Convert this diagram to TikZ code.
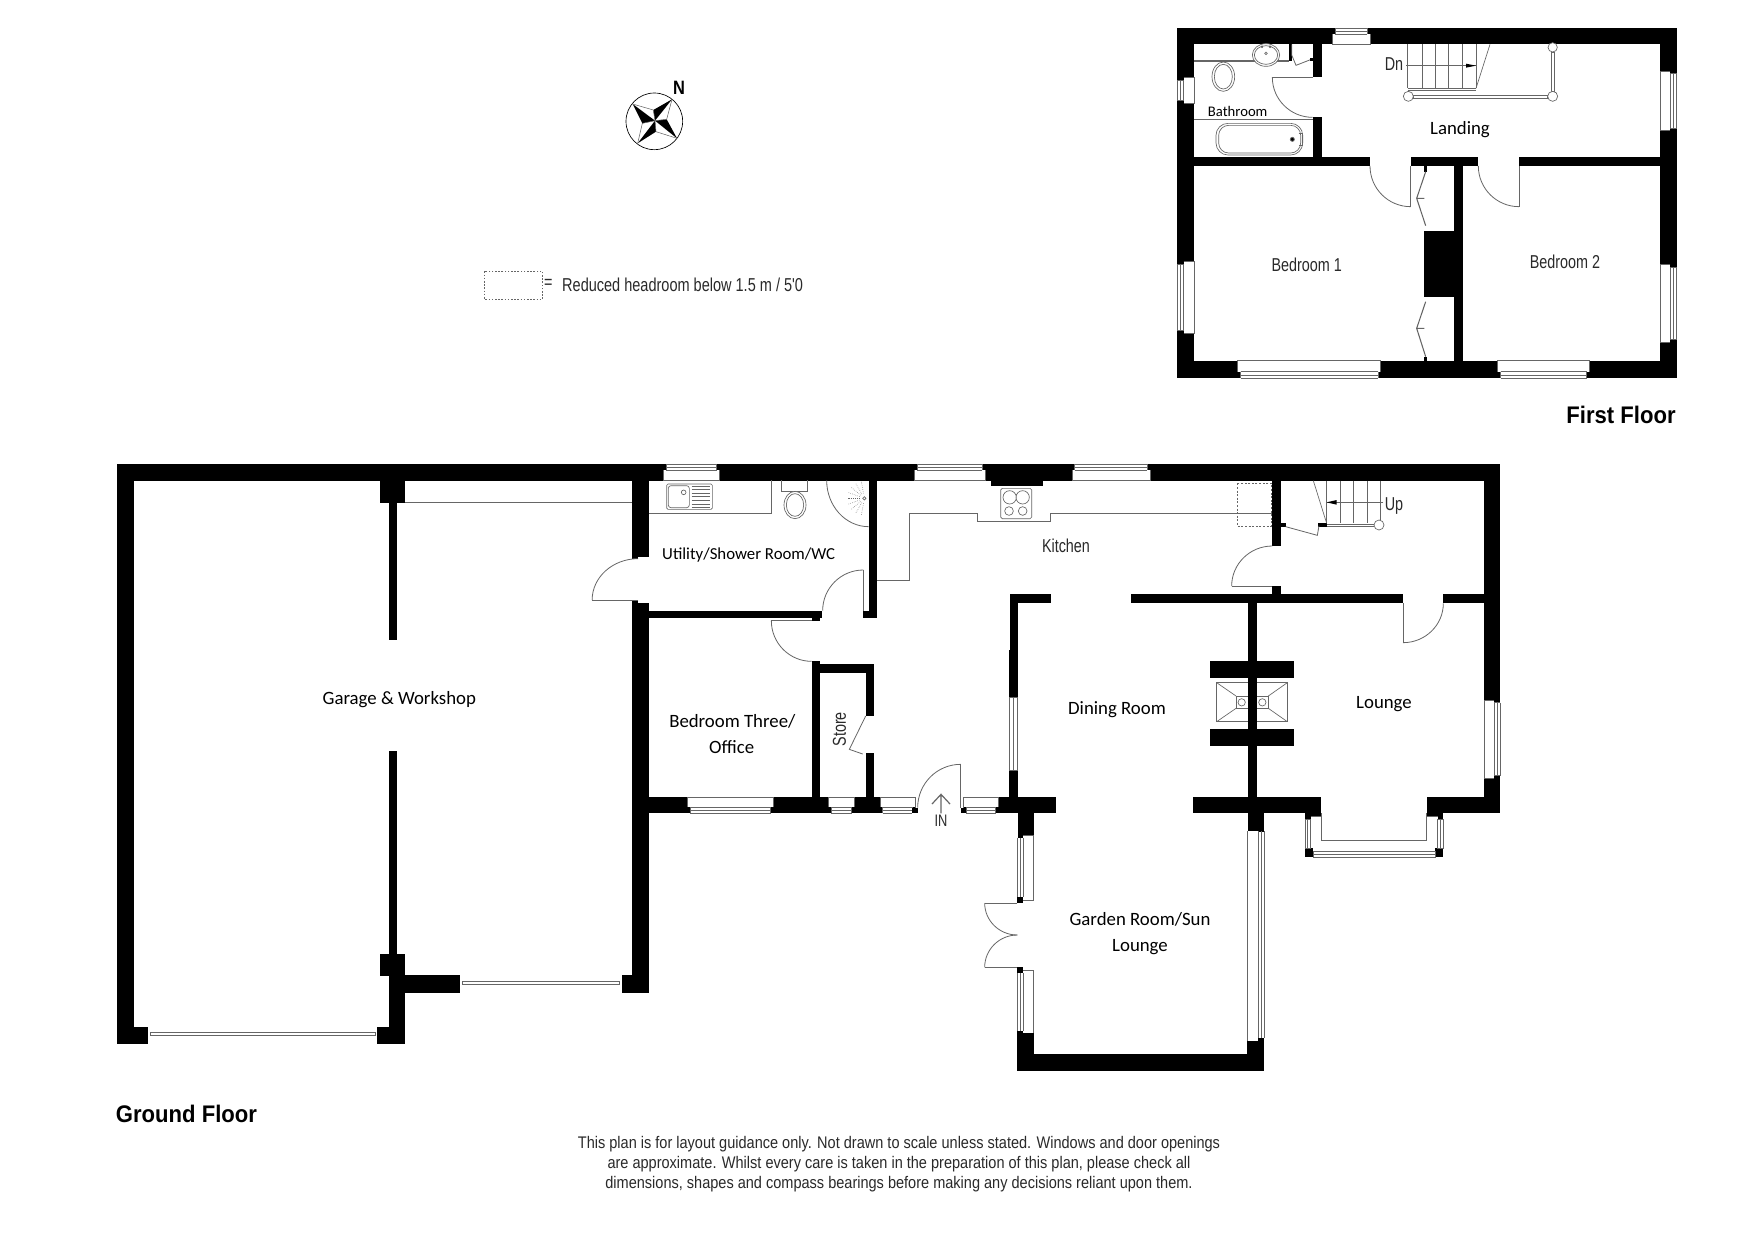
\documentclass[tikz,border=0pt]{standalone}
\usepackage{fontspec}
\usetikzlibrary{calc}
\setmainfont{Carlito}
\newfontfamily\arl{Liberation Sans}
\definecolor{ln}{HTML}{666666}
\definecolor{tx}{HTML}{2A2A2A}
\tikzset{
 zz/.style={x=.25pt,y=-.25pt},
 zw/.style={x=.267857pt,y=-.25pt},
 wall/.style={fill=black,draw=none},
 ln/.style={draw=ln,line width=.6pt},
 fx/.style={draw=ln,line width=.5pt,fill=white},
 fxn/.style={draw=ln,line width=.5pt},
 room/.style={inner sep=0pt,yshift=-1.2pt,font=\fontsize{14.1pt}{16pt}\selectfont,text=black},
 nar/.style={inner sep=0pt,font=\arl\fontsize{14pt}{16pt}\selectfont,text=tx,xscale=.77},
 foot/.style={inner sep=0pt,yshift=-.8pt,font=\arl\fontsize{12.6pt}{15pt}\selectfont,text=tx,xscale=.865},
 ttl/.style={inner sep=0pt,font=\arl\bfseries\fontsize{18pt}{20pt}\selectfont,text=black,xscale=.92},
}
\newcommand\W[4]{\fill[wall] (#1,#2) rectangle (#3,#4);}
% window in a horizontal wall: x1,x2,y inner face,y outer face
\newcommand\WinH[4]{%
 \pgfmathsetmacro\ym{#3+.62*(#4-#3)}\pgfmathsetmacro\dd{.16*abs(#4-#3)}%
 \pgfmathsetmacro\xa{#1+\dd}\pgfmathsetmacro\xb{#2-\dd}\pgfmathsetmacro\ymm{#3+.82*(#4-#3)}%
 \fill[white] (#1,#3) rectangle (#2,\ym);
 \fill[white] (\xa,\ym) rectangle (\xb,#4);
 \draw[fxn] (#1,\ym)--(#1,#3)--(#2,#3)--(#2,\ym);
 \draw[fxn] (\xa,\ym)--(\xb,\ym) (\xa,\ymm)--(\xb,\ymm) (\xa,#4)--(\xb,#4) (\xa,\ym)--(\xa,#4) (\xb,\ym)--(\xb,#4);
}
\newcommand\WinV[4]{% y1,y2,x inner face,x outer face
 \pgfmathsetmacro\xm{#3+.62*(#4-#3)}\pgfmathsetmacro\dd{.16*abs(#4-#3)}%
 \pgfmathsetmacro\ya{#1+\dd}\pgfmathsetmacro\yb{#2-\dd}\pgfmathsetmacro\xmm{#3+.82*(#4-#3)}%
 \fill[white] (#3,#1) rectangle (\xm,#2);
 \fill[white] (\xm,\ya) rectangle (#4,\yb);
 \draw[fxn] (\xm,#1)--(#3,#1)--(#3,#2)--(\xm,#2);
 \draw[fxn] (\xm,\ya)--(\xm,\yb) (\xmm,\ya)--(\xmm,\yb) (#4,\ya)--(#4,\yb) (\xm,\ya)--(#4,\ya) (\xm,\yb)--(#4,\yb);
}
% door swing: from p via tangent corner c to q
\newcommand\Sw[6]{\draw[ln] (#1,#2) .. controls ({#1+.5523*(#3-#1)},{#2+.5523*(#4-#2)}) and ({#5+.5523*(#3-#5)},{#6+.5523*(#4-#6)}) .. (#5,#6);}
\begin{document}
\begin{tikzpicture}[x=.75pt,y=-.75pt]
\useasboundingbox (0,0) rectangle (1754,1240);
\fill[white] (0,0) rectangle (1754,1240);

%%%%%%%%%%%%%% FIRST FLOOR
\begin{scope}[shift={(1170,20)},zz]
 \W{22}{24}{1520}{73}\W{22}{1022}{1520}{1075}\W{22}{24}{72}{1075}\W{1470}{24}{1520}{1075}
 \W{72}{412}{600}{438}\W{722}{412}{925}{438}\W{1047}{412}{1470}{438}
 \W{428}{73}{455}{170}\W{428}{292}{455}{412}
 \W{851}{438}{878}{1022}\W{763}{633}{851}{830}
 \W{763}{438}{771}{455}\W{763}{1010}{771}{1022}
 \WinH{487}{600}{73}{24}
 \WinH{203}{632}{1022}{1075}
 \WinH{983}{1258}{1022}{1075}
 \WinV{172}{250}{72}{22}
 \WinV{724}{940}{72}{22}
 \WinV{153}{332}{1470}{1520}
 \WinV{733}{967}{1470}{1520}
 % doors
 \draw[ln] (722,438)--(722,560);\Sw{722}{560}{600}{560}{600}{438}
 \draw[ln] (1047,438)--(1047,560);\Sw{1047}{560}{925}{560}{925}{438}
 \draw[ln] (307,172)--(428,172);\Sw{307}{172}{307}{292}{428}{292}
 % cupboards
 \draw[ln,line width=.8pt] (767,455)--(740,535)--(767,617) (740,535)--(763,535);
 \draw[ln,line width=.8pt] (767,845)--(740,925)--(767,1010) (740,925)--(763,925);
 % stairs
 \foreach \sx in {713,757,797,836,878,918}{\draw[fxn] (\sx,73)--(\sx,205);}
 \draw[fxn] (713,205)--(918,205) (713,211)--(918,211);
 \draw[fxn] (960,73)--(918,205);
 \draw[fxn] (708,137)--(918,137);
 \fill[black] (918,137)--(888,131)--(888,143)--cycle;
 \draw[ln] (730,225) rectangle (1133,235);
 \draw[ln] (1143,96) rectangle (1153,215);
 \draw[fx] (715,229) circle (15);
 \draw[fx] (1148,229) circle (15);
 \draw[fx] (1148,82) circle (14);
 % bathroom
 \draw[ln] (72,120)--(358,120) (72,124)--(358,124);
 \W{358}{73}{365}{122}
 \draw[ln] (365,73)--(365,105)--(378,136)--(424,118);
 \W{420}{113}{428}{122}
 \draw[fx] (288,105) ellipse (41 and 34);
 \draw[fxn] (288,105) ellipse (35 and 28);
 \draw[fxn] (288,100) circle (4);
 \fill[ln] (276,80) circle (2.5);\fill[ln] (300,80) circle (2.5);
 \draw[ln] (130,125)--(190,125);
 \draw[fx] (160,170) ellipse (34 and 44);
 \draw[fxn] (160,170) ellipse (27 and 37);
 \draw[ln] (72,298)--(428,298);
 \draw[fx,rounded corners=9pt] (138,310) rectangle (398,405);
 \draw[fxn,rounded corners=7.5pt] (146,316) rectangle (392,399);
 \fill[ln] (367,358) circle (6);
 \fill[black] (367,358) circle (2);
 \draw[fxn] (386,340)--(396,340)--(396,376)--(386,376);
 \node[room,yshift=1.2pt,font=\fontsize{11pt}{13pt}\selectfont] (tBath) at (203,275) {Bathroom};
 \node[room,yshift=.7pt] (tLand) at (870,326) {Landing};
 \node[nar] (tBed1) at (410,733) {Bedroom 1};
 \node[nar] (tBed2) at (1185,726) {Bedroom 2};
 \node[nar] (tDn) at (672,132) {Dn};
\end{scope}
\node[ttl] (tFirst) at (1621,415) {First Floor};

%%%%%%%%%%%%%% GROUND FLOOR
\fill[wall] (117.1,464) rectangle (1500,480.5);
\begin{scope}[shift={(100,450)},zw]
 \W{48}{42}{95}{900}
 \W{785}{91}{855}{158}\W{808}{158}{833}{570}
 \draw[ln] (855,158)--(1491,158);
 \W{1491}{91}{1507}{326}\W{1507}{91}{1538}{322}
 \W{1491}{450}{1507}{900}\W{1507}{458}{1538}{900}
 \draw[ln] (1507,450)--(1378,450);\Sw{1378}{450}{1378}{326}{1507}{326}
 \node[room] (tGar) at (838,745) {Garage \& Workshop};
\end{scope}
\begin{scope}[shift={(100,740)},zw]
 \W{48}{0}{95}{913}\W{48}{861}{133}{913}
 \draw[fx] (141,878) rectangle (771,887);
 \W{777}{861}{855}{913}\W{808}{706}{855}{861}
 \W{808}{32}{833}{642}\W{785}{642}{855}{708}
 \W{855}{706}{1007}{758}
 \draw[fx] (1014,723) rectangle (1455,734);
 \W{1461}{706}{1538}{758}\W{1491}{0}{1538}{758}
 \W{1538}{172}{1568}{220}
\end{scope}
\node[ttl] (tGround) at (186.5,1114) {Ground Floor};

\begin{scope}[shift={(580,450)},zz]
 \W{208}{482}{727}{505}\W{695}{505}{720}{513}
 \W{866}{91}{891}{505}\W{850}{482}{866}{505}
 \W{1232}{91}{1388}{108}
 \WinH{250}{418}{91}{42}
 \WinH{1003}{1215}{91}{42}
 \draw[ln] (208,190)--(574,190)--(574,91);
 \draw[ln] (850,482)--(850,360);\Sw{850}{360}{728}{360}{728}{482}
 \draw[ln] (574,512)--(695,512);\Sw{574}{512}{574}{634}{695}{634}
 \Sw{740}{91}{740}{230}{866}{230}
 % sink
 \draw[fxn,rounded corners=1pt] (260,102) rectangle (397,178);
 \draw[fxn,rounded corners=2pt] (265,107) rectangle (328,173);
 \draw[fxn] (311,127) circle (7);
 \foreach \sy in {108,118,129,140,151,162,172}{\draw[fxn] (335,\sy)--(390,\sy);}
 % toilet
 \draw[fxn] (605,91)--(605,124)--(683,124)--(683,91);
 \draw[fx] (645,165) ellipse (33 and 41);
 \draw[fxn] (645,165) ellipse (26 and 34);
 % shower
 \draw[fxn] (853,145) circle (5);
 \foreach \ang in {100,120,140,160,180,200,220,240,260}{
  \draw[ln,line width=.4pt,densely dotted] ($(853,145)+(\ang:15)$)--($(853,145)+(\ang:52)$);}
 % worktop + hob
 \draw[ln] (891,392)--(989,392)--(989,190)--(1191,190)--(1191,213)--(1412,213)--(1412,190)--(2075,190);
 \draw[fx,rounded corners=1.2pt] (1262,115) rectangle (1355,206);
 \draw[fxn] (1289,142) circle (20) (1328,142) circle (20) (1287,183) circle (13) (1328,183) circle (13);
 \node[room,font=\fontsize{12.6pt}{15pt}\selectfont] (tUtil) at (506,310) {Utility/Shower Room/WC};
 \node[nar] (tKit) at (1458,288) {Kitchen};
 % dining wall top
 \W{1289}{433}{1412}{460}\W{1289}{460}{1313}{742}
\end{scope}

\begin{scope}[shift={(640,650)},zz]
 \W{-24}{441}{1075}{490}
 \W{515}{33}{540}{441}\W{515}{43}{702}{68}
 \W{677}{68}{702}{198}\W{677}{310}{702}{441}
 \draw[ln] (677,198)--(628,298)--(668,312);
 \W{1108}{360}{1133}{441}\W{1075}{441}{1248}{490}
 \W{1133}{490}{1181}{555}\W{1133}{555}{1150}{565}
 \W{1108}{0}{1133}{141}
 \draw[fx] (1108,141) rectangle (1133,360);
 \draw[fxn] (1120,141)--(1120,360);
 \WinH{142}{400}{441}{490}
 \WinH{565}{643}{441}{490}
 \WinH{720}{825}{441}{490}
 \WinH{971}{1075}{441}{490}
 % entrance gap
 \fill[white] (825,441) rectangle (971,490);
 \W{817}{473}{833}{490}\W{962}{473}{978}{490}
 \draw[ln] (825,441)--(825,473) (971,441)--(971,473);
 \draw[ln] (962,473)--(962,343);\Sw{962}{343}{833}{343}{833}{473}
 % IN arrow
 \draw[ln,line width=.9pt] (903,490)--(903,433) (876,462)--(903,433)--(930,462);
 \node[nar,font=\arl\fontsize{12.5pt}{15pt}\selectfont] (tIN) at (903,513) {IN};
 \node[inner sep=0pt,font=\arl\fontsize{14pt}{16pt}\selectfont,text=tx,rotate=90,xscale=.77] (tStore) at (598,238) {Store};
 \node[room] (tB3a) at (277,210) {Bedroom Three/};
 \node[room,yshift=.8pt] (tB3b) at (275,291) {Office};
 \draw[fxn] (1150,555)--(1181,555)--(1181,575);
\end{scope}

\begin{scope}[shift={(1060,450)},zz]
 \W{637}{91}{662}{288}\W{637}{408}{662}{433}
 \W{214}{433}{1029}{460}\W{1150}{433}{1272}{460}
 \W{1272}{91}{1320}{1090}
 \WinH{36}{270}{91}{42}
 \WinV{750}{985}{1272}{1320}
 \W{563}{460}{590}{1041}
 \W{400}{1041}{783}{1090}\W{1100}{1041}{1320}{1090}
 \W{563}{1090}{613}{1143}
 \W{597}{1143}{613}{1147}
 \W{735}{1090}{783}{1100}\W{735}{1100}{752}{1108}
 \W{1100}{1090}{1150}{1100}\W{1133}{1100}{1150}{1108}
 % fireplace
 \draw[fx] (470,698) rectangle (682,815);
 \draw[fxn] (528,738) rectangle (625,775);
 \draw[fxn] (470,698)--(528,738) (682,698)--(625,738) (470,815)--(528,775) (682,815)--(625,775);
 \draw[fxn] (545,757) circle (11) (607,757) circle (11);
 \W{450}{633}{703}{685}\W{450}{838}{703}{887}
 \W{563}{685}{590}{838}
 % doors
 \draw[ln] (637,408)--(515,408);\Sw{515}{408}{515}{288}{637}{288}
 \draw[ln] (1029,460)--(1029,578);\Sw{1029}{578}{1150}{578}{1150}{460}
 % bay
 \draw[ln] (783,1090)--(783,1172)--(1100,1172)--(1100,1090);
 \draw[ln] (752,1100)--(783,1100) (1100,1100)--(1133,1100);
 \W{735}{1195}{760}{1222}\W{1125}{1195}{1150}{1222}
 \draw[fxn] (735,1108) rectangle (752,1195);
 \draw[fxn] (743,1108)--(743,1195);
 \draw[fxn] (1133,1108) rectangle (1150,1195);
 \draw[fxn] (1141,1108)--(1141,1195);
 \draw[fxn] (760,1205) rectangle (1125,1222);
 \draw[fxn] (760,1213)--(1125,1213);
 \node[room] (tDin) at (171,775) {Dining Room};
 \node[room,yshift=-.8pt] (tLou) at (972,754) {Lounge};
\end{scope}

% garden room
\begin{scope}[shift={(960,840)},zz]
 \W{172}{643}{913}{693}
 \W{172}{572}{190}{643}\W{190}{578}{221}{643}
 \W{862}{602}{913}{643}\W{895}{595}{913}{602}
 \W{172}{172}{190}{189}\W{172}{382}{190}{400}
 % left window pair
 \draw[fxn] (172,-7)--(172,172) (181,-7)--(181,172) (190,-7)--(190,172);
 \draw[fxn] (190,180)--(221,180)--(221,-15);
 \draw[fxn] (172,400)--(172,572) (181,400)--(181,572) (190,400)--(190,572);
 \draw[fxn] (190,392)--(221,392)--(221,578);
 % double door
 \draw[ln] (172,189)--(74,189);\Sw{74}{189}{74}{285}{172}{285}
 \draw[ln] (172,382)--(74,382);\Sw{74}{382}{74}{285}{172}{285}
 % right window
 \draw[fxn] (862,-27)--(862,602) (895,-27)--(895,595) (904,-27)--(904,595) (913,-27)--(913,595);
 \node[room,yshift=.6pt] (tGar1) at (540,235) {Garden Room/Sun};
 \node[room,yshift=-.4pt] (tGar2) at (540,316) {Lounge};
\end{scope}

% stairs up
\begin{scope}[shift={(1230,460)},zz]
 \foreach \sx in {290,330,371,412,452}{\draw[fxn] (\sx,62)--(\sx,190);}
 \draw[fxn] (290,193)--(432,193) (290,199)--(432,199);
 \W{265}{190}{290}{200}\W{150}{190}{167}{200}
 \draw[ln] (167,200)--(262,226)--(267,197);
 \draw[fxn] (250,62)--(290,190);
 \draw[fxn] (460,127)--(290,127);
 \fill[black] (290,127)--(320,120)--(320,134)--cycle;
 \draw[fx] (447,195) circle (15);
 \draw[ln,dash pattern=on 1.5pt off 1.2pt] (22,70) rectangle (124,198);
 \node[nar,yshift=-2pt] (tUp) at (492,130) {Up};
\end{scope}

%%%%%%%%%%%%%% COMPASS + LEGEND
\begin{scope}[shift={(470,60)},zz]
 \coordinate (cc) at (555,182);
 \draw[draw=black,line width=.5pt] (553,184) circle (85);
 \fill[black] (488,132)--(cc)--(517,190)--cycle;
 \fill[black] (606,118)--(cc)--(550,150)--cycle;
 \fill[black] (621,235)--(cc)--(590,178)--cycle;
 \fill[black] (503,250)--(cc)--(558,215)--cycle;
 \draw[ln,line width=.4pt] (488,132)--(550,150)--(cc) (606,118)--(590,178)--(cc) (621,235)--(558,215)--(cc) (503,250)--(517,190)--(cc);
 \node[inner sep=0pt,font=\arl\bfseries\fontsize{14.5pt}{16pt}\selectfont,xscale=.85] (tN) at (627,83) {N};
 \draw[ln,line width=.7pt,dash pattern=on 1.2pt off 1.2pt] (44,634) rectangle (218,718);
 \node[nar] (tEq) at (235,672) {=};
 \node[nar,anchor=west,xscale=1.01] (tLeg) at (276,674) {Reduced headroom below 1.5 m / 5'0};
\end{scope}

%%%%%%%%%%%%%% FOOTER
\node[foot] (f1) at (899,1142.7) {This plan is for layout guidance only. Not drawn to scale unless stated. Windows and door openings};
\node[foot] (f2) at (899,1162.7) {are approximate. Whilst every care is taken in the preparation of this plan, please check all};
\node[foot] (f3) at (899,1182.7) {dimensions, shapes and compass bearings before making any decisions reliant upon them.};
\end{tikzpicture}
\end{document}
